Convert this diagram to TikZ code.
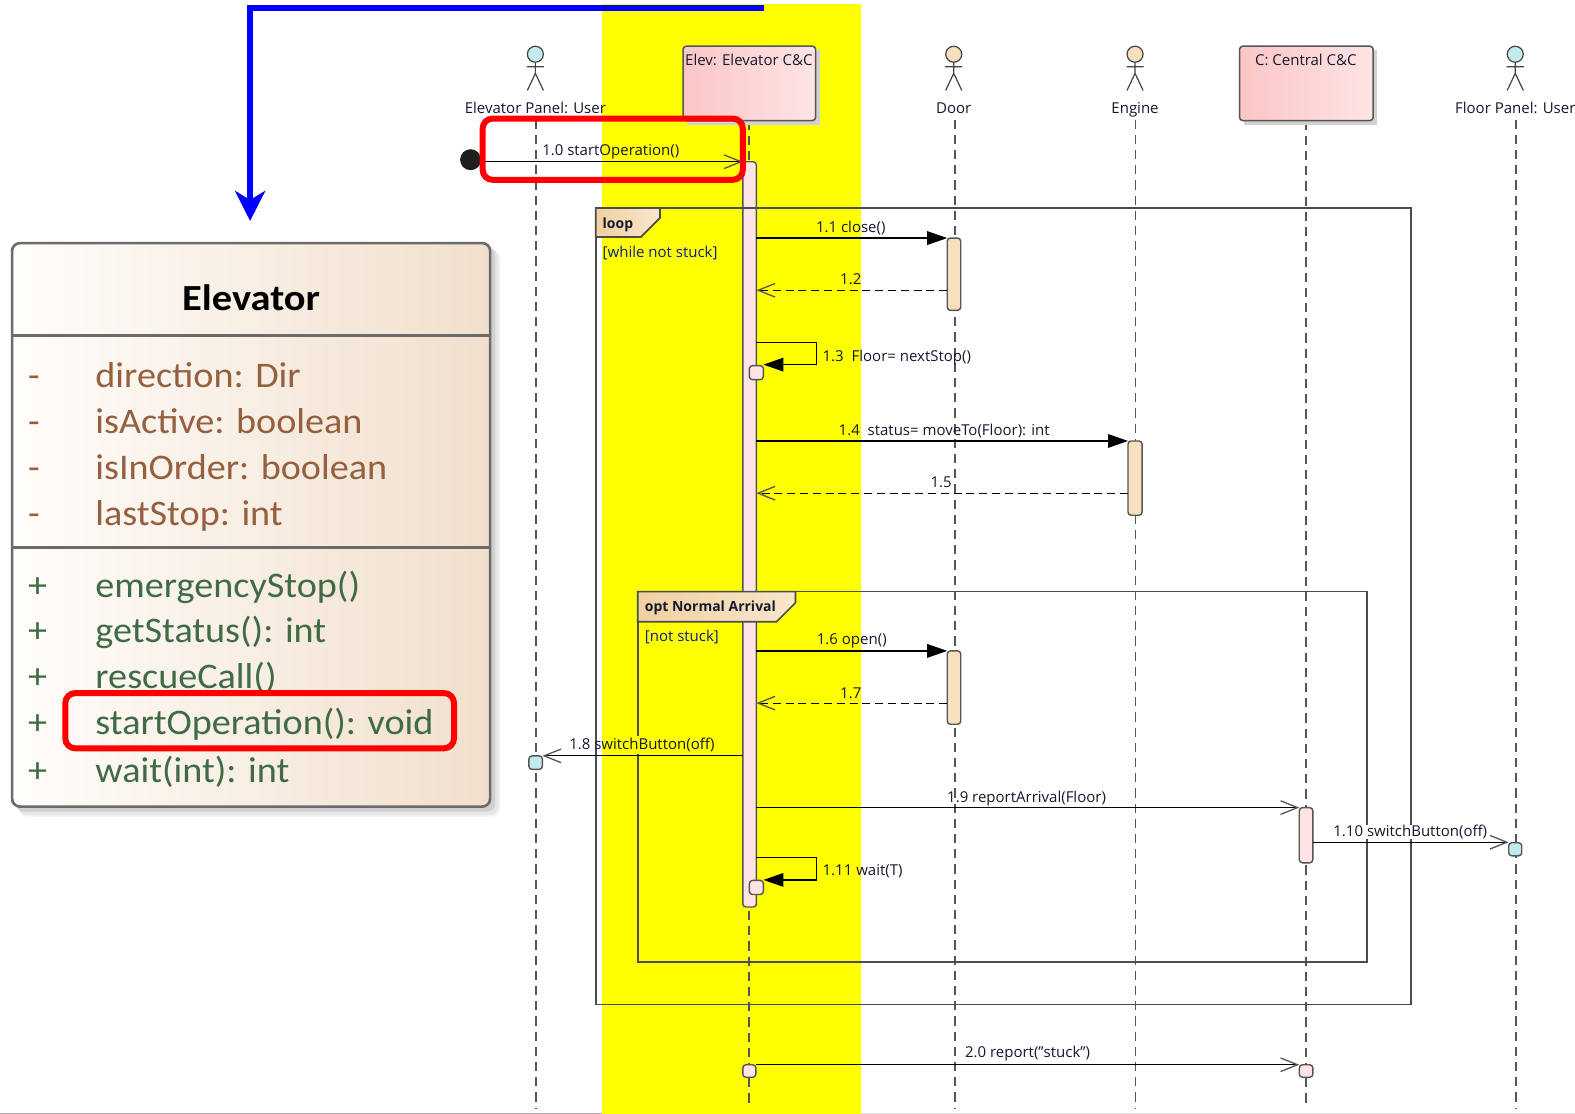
\documentclass[tikz,border=0pt]{standalone}
\usepackage{fontspec}
\setmainfont{Open Sans}
\newfontfamily\classfont[FakeStretch=1.06]{Carlito}
\newfontfamily\classtitle[FakeStretch=1.1]{Carlito}
\usetikzlibrary{arrows.meta,calc}
\definecolor{pureyellow}{RGB}{255,255,0}
\definecolor{pureblue}{RGB}{0,0,255}
\definecolor{purered}{RGB}{255,0,0}
\definecolor{seqtext}{HTML}{14192E}
\definecolor{guard}{HTML}{0B1F8C}
\definecolor{stroke}{HTML}{555555}
\definecolor{pinkA}{HTML}{FBC6C6}
\definecolor{pinkB}{HTML}{FEE4E4}
\definecolor{peach}{HTML}{F8E0BE}
\definecolor{tealc}{HTML}{C3EBEB}
\definecolor{tabA}{HTML}{F0D0A0}
\definecolor{tabB}{HTML}{F9E6CC}
\definecolor{attrc}{HTML}{95603F}
\definecolor{methc}{HTML}{3F6B45}
\definecolor{classR}{HTML}{F1DFCC}
\definecolor{classL}{HTML}{FFFDFB}
\definecolor{hairA}{HTML}{C8A4A8}
\def\u{0.50223pt}
\newcommand\barnode[6]{\node[#6,minimum width={(#4-#2)*\u},minimum height={(#5-#3)*\u}] (#1) at ({(#2+#4)/2},{(#3+#5)/2}) {};}
\tikzset{
  plainbar/.style={rectangle,inner sep=0pt,outer sep=0pt,draw=stroke,line width=0.7pt,rounded corners=1.6pt},
  pinkbar/.style={plainbar,fill=pinkB},
  peachbar/.style={plainbar,fill=peach},
  tealbar/.style={plainbar,fill=tealc},
  lifeline/.style={draw=stroke,line width=0.75pt,dash pattern=on 4.6pt off 3pt},
  synccall/.style={draw=black,line width=0.6pt,-{Triangle[length=10pt,width=6.8pt,fill=black]}},
  asynccall/.style={draw=black,line width=0.6pt,-{Straight Barb[length=8.5pt,width=6.8pt,color=stroke,line width=0.65pt]}},
  retcall/.style={draw=black,line width=0.6pt,dash pattern=on 4pt off 2.4pt,-{Straight Barb[length=8.5pt,width=6.8pt,color=stroke,line width=0.65pt,sep=0pt]}},
  msgtext/.style={inner sep=0pt,outer sep=0pt,text=seqtext,font=\fontsize{7.5}{8}\selectfont},
  guardtext/.style={msgtext,text=guard},
  frameline/.style={draw=stroke!90!black,line width=0.85pt},
  redbox/.style={draw=purered,line width=3pt,rounded corners=5pt},
  classtext/.style={inner sep=0pt,outer sep=0pt,font=\classfont\fontsize{18}{20}\selectfont},
  attr/.style={classtext,text=attrc},
  meth/.style={classtext,text=methc},
  actorline/.style={draw=stroke!80!black,line width=0.6pt},
  head/.style={circle,draw=stroke!80!black,line width=0.6pt,inner sep=0pt,minimum size=8pt},
}
\begin{document}
\begin{tikzpicture}[x=0.50223pt,y=-0.50223pt]
\useasboundingbox (0,0) rectangle (1568,1109);
\fill[white] (0,0) rectangle (1568,1109);
% bottom hairline
\draw[hairA,line width=0.6pt] (0,1108.3) -- (602,1108.3);
\draw[black!12,line width=0.6pt] (857,1108.3) -- (1568,1108.3);
% yellow band
\fill[pureyellow] (599.5,4) rectangle (857,1109);
% lifeline ends
\foreach \n/\x/\t in {p/533.5/119,e/745.5/120,d/950.5/119,g/1130.5/119,c/1300/120,f/1509/119}{
  \coordinate (\n top) at (\x,\t);
  \coordinate (\n bot) at (\x,1103);
  \path[lifeline] (\n top) -- (\n bot);
}
% actors
\foreach \n/\x/\col/\txt in {pa/533/tealc/{Elevator Panel: User},da/949.5/peach/Door,ga/1130/peach/Engine,fa/1508.5/tealc/{Floor Panel: User}}{
  \node[head,fill=\col] (\n head) at (\x,54) {};
  \coordinate (\n hip) at (\x,73);
  \coordinate (\n lh) at (\x-8.5,66.5);
  \coordinate (\n rh) at (\x+8.5,66.5);
  \coordinate (\n ll) at (\x-8,90);
  \coordinate (\n rl) at (\x+8,90);
  \draw[actorline] (\n head.south) -- (\n hip) -- (\n ll) (\n hip) -- (\n rl) (\n lh) -- (\n rh);
  \node[msgtext,anchor=base] (\n label) at (\x,113) {\txt};
}
% lifeline heads
\fill[black!18] (684,50) rectangle (816,124);
\node[rectangle,inner sep=0pt,outer sep=0pt,draw=stroke,line width=0.75pt,rounded corners=1.6pt,left color=pinkA,right color=pinkB,minimum width=132*\u,minimum height=74*\u] (elev) at (746,83) {};
\node[msgtext,anchor=base] (elevt) at (745.5,65.5) {Elev: Elevator C\&C};
\fill[black!18] (1238,50) rectangle (1371,124);
\node[rectangle,inner sep=0pt,outer sep=0pt,draw=stroke,line width=0.75pt,rounded corners=1.6pt,left color=pinkA,right color=pinkB,minimum width=133*\u,minimum height=74*\u] (cent) at (1300.5,83) {};
\node[msgtext,anchor=base] (centt) at (1300,65.5) {C: Central C\&C};
% activations
\barnode{main}{739.5}{161}{753}{903}{pinkbar}
\barnode{doorA}{943}{237}{956.5}{309}{peachbar}
\barnode{doorB}{943}{648}{956.5}{721}{peachbar}
\barnode{engA}{1123}{439}{1137}{513}{peachbar}
\barnode{centA}{1293.5}{804}{1307}{859}{pinkbar}
\barnode{elevEnd}{739.5}{1060}{752.5}{1072.5}{pinkbar}
\barnode{centEnd}{1293.5}{1060}{1307}{1072.5}{pinkbar}
\barnode{panelS}{526.5}{752.5}{540}{766}{tealbar}
\barnode{floorS}{1502}{839}{1515}{852}{tealbar}
% frames
\draw[frameline] (593,207) rectangle (1405,1000);
\path[draw=stroke!90!black,line width=0.85pt,left color=tabA,right color=tabB] (593,207) -- (657,207) -- (657,217) -- (638,236) -- (593,236) -- cycle;
\node[msgtext,anchor=base west,font=\bfseries\fontsize{7}{8}\selectfont] (loopt) at (600,227) {loop};
\node[guardtext,anchor=base west] (loopg) at (600,256) {[while not stuck]};
\draw[frameline] (635,589) rectangle (1361,958);
\path[draw=stroke!90!black,line width=0.85pt,left color=tabA,right color=tabB] (635,589) -- (792,589) -- (792,600) -- (773,619) -- (635,619) -- cycle;
\node[msgtext,anchor=base west,font=\bfseries\fontsize{7}{8}\selectfont] (optt) at (642,609) {opt Normal Arrival};
\node[guardtext,anchor=base west] (optg) at (642,639) {[not stuck]};
% small self-call bars
\barnode{selfA}{746}{364}{760}{378}{pinkbar}
\barnode{selfB}{746}{876.5}{760}{890.5}{pinkbar}
% gaps in the frame lines beside labels
\fill[pureyellow] (632,733) rectangle (638,751);
% messages
\node[draw=none,fill=black!88,circle,inner sep=0pt,minimum size=10.5pt] (start) at (468.5,159) {};
\coordinate (y0) at (0,161);
\draw[asynccall] (start.east |- y0) -- (main.north west);
\node[msgtext,anchor=base] (l10) at (608,155) {1.0 startOperation()};
\draw[synccall] (main.east |- doorA.north) -- (doorA.north west);
\node[msgtext,anchor=base] (l11) at (847,231.5) {1.1 close()};
\coordinate (y2) at (0,289);
\draw[retcall] (doorA.west |- y2) -- (main.east |- y2);
\node[msgtext,anchor=base] (l12) at (847,283) {1.2};
\coordinate (y3a) at (0,341);
\coordinate (y3b) at (813,363);
\draw[synccall] (main.east |- y3a) -| (y3b) -- (selfA.east |- y3b);
\node[msgtext,anchor=base west] (l13) at (819,359.5) {1.3\ \ Floor= nextStop()};
\draw[synccall] (main.east |- engA.north) -- (engA.north west);
\node[msgtext,anchor=base] (l14) at (940,433.5) {1.4\ \ status= moveTo(Floor): int};
\coordinate (y5) at (0,491);
\draw[retcall] (engA.west |- y5) -- (main.east |- y5);
\node[msgtext,anchor=base] (l15) at (937,485) {1.5};
\draw[synccall] (main.east |- doorB.north) -- (doorB.north west);
\node[msgtext,anchor=base] (l16) at (848,641.5) {1.6 open()};
\coordinate (y7) at (0,700);
\draw[retcall] (doorB.west |- y7) -- (main.east |- y7);
\node[msgtext,anchor=base] (l17) at (847,695) {1.7};
\draw[asynccall] (main.west |- panelS.north) -- (panelS.north east);
\node[msgtext,anchor=base] (l18) at (639,746) {1.8 switchButton(off)};
\draw[asynccall] (main.east |- centA.north) -- (centA.north west);
\node[msgtext,anchor=base] (l19) at (1022,799) {1.9 reportArrival(Floor)};
\node[msgtext,anchor=base,fill=white] (l110) at (1404,832.5) {1.10 switchButton(off)};
\coordinate (y10) at (0,838.5);
\draw[asynccall] (centA.east |- y10) -- (floorS.west |- y10);
\coordinate (y11a) at (0,854);
\coordinate (y11b) at (813,876);
\draw[synccall] (main.east |- y11a) -| (y11b) -- (selfB.east |- y11b);
\node[msgtext,anchor=base west] (l111) at (819,871.5) {1.11 wait(T)};
\draw[asynccall] (elevEnd.north east) -- (centEnd.north west);
\node[msgtext,anchor=base] (l20) at (1023,1053) {2.0 report("stuck")};
% blue pointer
\coordinate (blueA) at (760.5,7.5);
\coordinate (blueB) at (249,7.5);
\coordinate (blueC) at (249,220);
\draw[pureblue,line width=3pt,-{Stealth[length=15pt,width=15pt,inset=4.5pt]}] (blueA) -- (blueB) -- (blueC);
% red highlight on the message
\node[redbox,rectangle,inner sep=0pt,outer sep=0pt,minimum width=259*\u,minimum height=61*\u] (redA) at (610,148.5) {};
% class
\fill[black!5,rounded corners=4pt] (20,250) rectangle (498,813);
\fill[black!10,rounded corners=4pt] (18,248) rectangle (496,811);
\fill[black!18,rounded corners=4pt] (16,246) rectangle (493,808);
\node[rectangle,inner sep=0pt,outer sep=0pt,draw=black!58,line width=1.3pt,rounded corners=4pt,left color=classL,right color=classR,minimum width=476*\u,minimum height=561*\u] (cls) at (250,522.5) {};
\coordinate (divA) at (0,334);
\coordinate (divB) at (0,545);
\draw[black!58,line width=1.3pt] (cls.west |- divA) -- (cls.east |- divA);
\draw[black!58,line width=1.3pt] (cls.west |- divB) -- (cls.east |- divB);
\node[inner sep=0pt,outer sep=0pt,anchor=base,font=\classtitle\bfseries\fontsize{18.4}{20}\selectfont] (title) at (250,309) {Elevator};
\foreach \n/\y/\t in {a/386/direction: Dir,b/432/isActive: boolean,c/477/isInOrder: boolean,d/523/lastStop: int}{
  \node[attr,anchor=base west] (sym\n) at (28,\y) {-};
  \node[attr,anchor=base west] (att\n) at (95,\y) {\t};
}
\foreach \n/\y/\t in {a/595/emergencyStop(),b/640/getStatus(): int,c/685/rescueCall(),d/731/startOperation(): void,e/779/wait(int): int}{
  \node[meth,anchor=base west] (plus\n) at (28,\y) {+};
  \node[meth,anchor=base west] (met\n) at (95,\y) {\t};
}
\node[redbox,rectangle,inner sep=0pt,outer sep=0pt,minimum width=387*\u,minimum height=55*\u] (redB) at (258.5,717.5) {};
\end{tikzpicture}
\end{document}
